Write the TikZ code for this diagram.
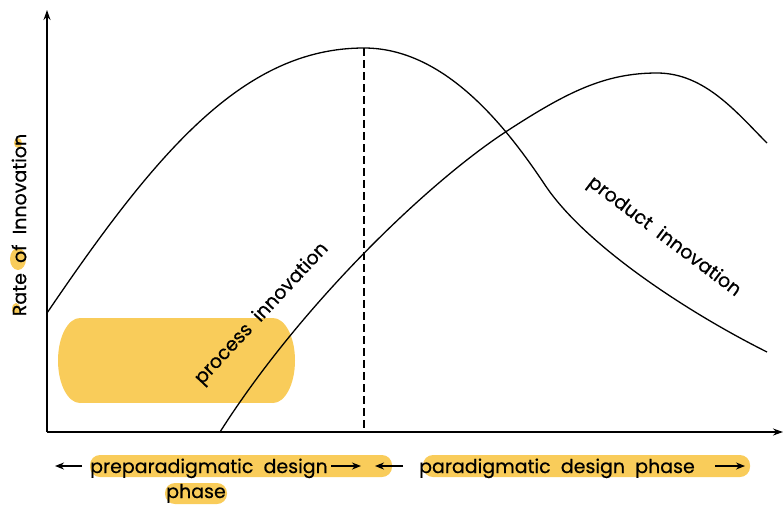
\documentclass[tikz,border=0pt]{standalone}
\usepackage{fontspec}
\setmainfont{Poppins}[FakeBold=0.5]
\usetikzlibrary{arrows.meta}
\definecolor{hl}{RGB}{249,204,90}
\begin{document}
\begin{tikzpicture}[x=1pt,y=-1pt,
  lbl/.style={font=\fontsize{19}{22}\selectfont, inner sep=0pt},
  axis/.style={line width=1.4pt, -{Stealth[length=10pt,width=7pt]}},
  curve/.style={line width=1.3pt},
  tarrow/.style={line width=1.8pt, -{Stealth[length=9pt,width=7pt]}},
  hlbar/.style={fill=hl, rounded corners=10pt}]
\useasboundingbox (0,0) rectangle (783,504);
% highlights
\fill[hl] (80,318) rectangle (273,403);
\fill[hl] (80,360.5) ellipse [x radius=22, y radius=42.5];
\fill[hl] (273,360.5) ellipse [x radius=22, y radius=42.5];
\fill[hlbar] (90,455) rectangle (392,477);
\fill[hlbar] (423,455) rectangle (750,477);
\fill[hlbar] (165,483) rectangle (227,504);
\fill[hl] (18,259) ellipse [x radius=8, y radius=11];
\fill[hl] (16,309) ellipse [x radius=4, y radius=6];
\fill[hl] (18,143) ellipse [x radius=4, y radius=5];
% axes
\coordinate (O) at (47,432);
\coordinate (ytop) at (47,10);
\coordinate (xend) at (783,432);
\coordinate (peak) at (364,48);
\coordinate (pbase) at (364,432);
\draw[axis] (O) -- (ytop);
\draw[axis] (O) -- (xend);
\draw[line width=1.2pt, dash pattern=on 8pt off 4pt] (peak) -- (pbase);
% curves
\draw[curve] (47,313) .. controls (157,151) and (244,48) .. (peak)
  .. controls (444,48) and (505,125) .. (545,185)
  .. controls (585,245) and (687,312) .. (767,352);
\draw[curve] (220,432) .. controls (300,306) and (427,183) .. (507,131)
  .. controls (567,92) and (605,73) .. (657,73)
  .. controls (705,73) and (737,113) .. (767,143);
% labels
\node[lbl, rotate=90] (ylab) at (19,225) {Rate\ \ of\ \ Innovation};
\node[lbl, rotate=47] (proc) at (262,314) {process\ \ innovation};
\node[lbl, rotate=-37] (prod) at (664,237) {product\ \ innovation};
\node[lbl, anchor=base west] (pre) at (90,473) {preparadigmatic\ \ design};
\node[lbl, anchor=base] (phase1) at (196,498) {phase};
\node[lbl, anchor=base west] (para) at (419,473) {paradigmatic\ \ design\ \ phase};
\coordinate (a1s) at (82,466); \coordinate (a1e) at (55,466);
\coordinate (a2s) at (331,466); \coordinate (a2e) at (361,466);
\coordinate (a3s) at (403,466); \coordinate (a3e) at (375,466);
\coordinate (a4s) at (715,466); \coordinate (a4e) at (745,466);
\draw[tarrow] (a1s) -- (a1e);
\draw[tarrow] (a2s) -- (a2e);
\draw[tarrow] (a3s) -- (a3e);
\draw[tarrow] (a4s) -- (a4e);
\end{tikzpicture}
\end{document}
